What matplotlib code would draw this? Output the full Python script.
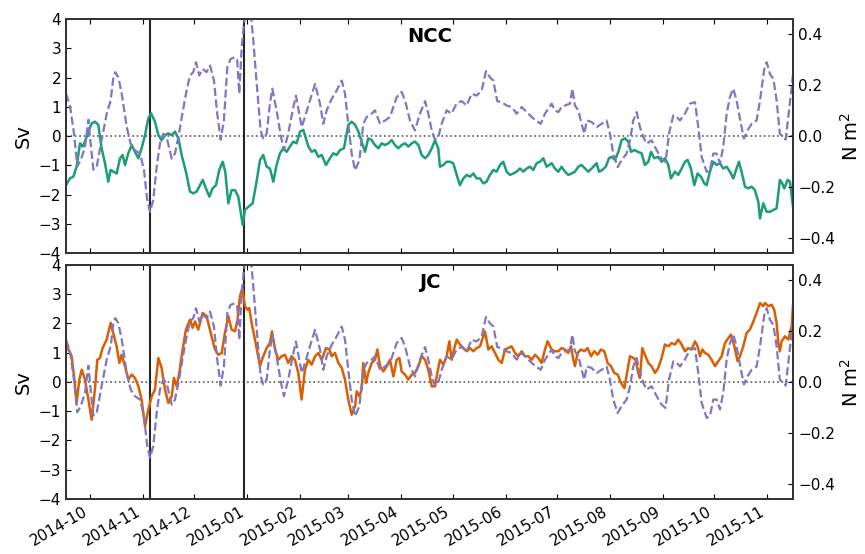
import matplotlib
matplotlib.use("Agg")
import matplotlib.pyplot as plt
import matplotlib.dates as mdates
import pandas as pd

START = pd.Timestamp("2014-09-17")
END = pd.Timestamp("2015-11-16")
events = ["2014-11-05", "2014-12-30"]

# alongshore wind stress (N m^2), days since START
wind_day = [0, 2.3, 4.7, 6.6, 8.6, 11.1, 13.1, 14.6, 16.0, 17.9, 20.8, 23.8, 26.1, 27.7, 28.8,
            30.6, 32.6, 35.5, 37.8, 40.3, 43.3, 45.6, 47.5, 49.1, 51.0, 53.0, 54.9, 56.9, 58.8,
            61.8, 63.7, 65.7, 68.2, 70.5, 72.5, 74.4, 76.0, 77.9, 79.9, 82.2, 84.2, 86.5, 88.4,
            90.4, 92.3, 94.3, 96.2, 98.8, 100.1, 101.3, 102.7, 104.0, 105.6, 107.9, 109.5, 111.8,
            113.8, 115.3, 117.3, 119.2, 120.6, 123.1, 125.5, 127.4, 129.9, 132.5, 134.4, 137.8,
            139.7, 142.6, 145.6, 148.5, 150.4, 152.4, 155.3, 158.2, 161.2, 163.1, 165.0, 167.0,
            169.0, 171.5, 173.8, 175.8, 178.7, 180.6, 183.6, 186.5, 189.4, 193.3, 196.2, 198.2,
            201.1, 204.0, 206.9, 209.9, 211.8, 213.8, 215.7, 217.6, 219.6, 222.5, 225.4, 228.4,
            231.3, 234.2, 237.1, 240.1, 243.0, 245.5, 247.8, 249.8, 252.1, 254.7, 257.6, 260.5,
            263.4, 266.4, 269.3, 272.2, 275.1, 277.5, 280.0, 281.9, 283.9, 285.8, 287.8, 289.7,
            291.7, 294.6, 296.0, 297.5, 299.5, 301.4, 303.0, 304.4, 307.3, 310.2, 313.1, 316.0,
            318.0, 319.9, 322.5, 324.8, 327.7, 329.7, 331.6, 333.6, 335.5, 337.5, 339.4, 342.3,
            345.3, 348.2, 350.5, 352.5, 355.0, 357.0, 358.9, 361.8, 364.7, 367.7, 369.6, 371.6,
            374.5, 376.4, 378.4, 380.3, 382.3, 384.2, 386.2, 388.1, 390.1, 392.0, 394.9, 396.3,
            398.4, 400.8, 403.7, 405.7, 408.2, 409.6, 411.5, 413.5, 415.4, 417.3, 419.3, 420.7,
            422.2, 424.2, 425.1]
wind = [0.166, 0.120, 0.009, -0.119, -0.095, -0.043, 0.064, -0.043, -0.132, -0.122, -0.017, 0.088,
        0.140, 0.231, 0.251, 0.231, 0.166, 0.035, -0.030, -0.056, -0.069, -0.135, -0.252, -0.298,
        -0.252, -0.122, -0.030, 0.009, -0.004, -0.089, -0.069, -0.004, 0.094, 0.179, 0.238, 0.251,
        0.290, 0.238, 0.264, 0.251, 0.277, 0.218, 0.088, -0.014, 0.061, 0.271, 0.303, 0.310, 0.297,
        0.166, 0.349, 0.440, 0.506, 0.493, 0.375, 0.179, 0.022, -0.010, 0.009, 0.127, 0.186, 0.101,
        0.003, -0.056, 0.009, 0.101, 0.159, 0.035, 0.075, 0.140, 0.205, 0.127, 0.048, 0.101, 0.146,
        0.179, 0.218, 0.166, 0.048, -0.069, -0.135, -0.095, 0.048, 0.075, 0.088, 0.101, 0.048,
        0.061, 0.075, 0.153, 0.173, 0.140, 0.061, 0.022, 0.088, 0.137, 0.088, 0.022, -0.014,
        -0.004, 0.048, 0.101, 0.088, 0.129, 0.137, 0.120, 0.166, 0.159, 0.179, 0.255, 0.231, 0.218,
        0.137, 0.133, 0.120, 0.114, 0.088, 0.114, 0.094, 0.075, 0.059, 0.048, 0.088, 0.107, 0.127,
        0.101, 0.094, 0.114, 0.120, 0.127, 0.186, 0.120, 0.101, 0.048, 0.009, 0.061, 0.055, 0.035,
        0.048, 0.061, 0.009, -0.069, -0.122, -0.095, -0.069, -0.017, 0.061, 0.094, 0.035, -0.004,
        -0.030, -0.017, -0.056, -0.089, -0.102, 0.009, 0.081, 0.075, 0.061, 0.088, 0.127, 0.133,
        0.035, -0.082, -0.141, -0.135, -0.069, -0.069, -0.108, -0.043, 0.088, 0.153, 0.186, 0.140,
        0.035, -0.010, 0.022, 0.048, 0.061, 0.140, 0.264, 0.290, 0.244, 0.225, 0.140, 0.009,
        -0.004, -0.014, 0.075, 0.192, 0.251]

# NCC transport (Sv)
ncc_day = [0, 2.3, 4.3, 6.2, 8.2, 9.7, 11.1, 13.1, 15.0, 16.9, 18.9, 20.8, 22.8, 24.7, 26.1, 27.7,
           29.6, 31.6, 33.1, 34.5, 36.4, 38.4, 40.3, 42.3, 44.2, 46.2, 48.1, 49.7, 52.0, 54.0,
           55.9, 57.9, 59.8, 61.8, 63.7, 65.7, 67.6, 70.1, 72.5, 74.4, 76.4, 78.3, 79.9, 81.8,
           83.8, 85.7, 87.7, 89.6, 91.6, 93.1, 94.9, 96.8, 98.8, 100.7, 103.3, 104.6, 106.6,
           109.1, 111.4, 113.4, 115.3, 117.3, 119.2, 121.2, 123.1, 125.1, 127.0, 129.0, 130.9,
           132.9, 134.8, 136.8, 138.7, 141.7, 143.6, 145.6, 147.5, 149.5, 152.0, 154.3, 156.3,
           158.2, 160.2, 162.5, 165.0, 167.0, 169.0, 170.9, 172.8, 174.8, 176.7, 178.7, 180.6,
           182.6, 184.5, 186.5, 188.4, 190.4, 192.3, 194.3, 196.2, 198.2, 200.1, 202.1, 204.0,
           206.0, 207.9, 209.9, 211.8, 213.8, 215.7, 217.6, 218.6, 220.6, 222.5, 224.5, 226.4,
           228.4, 230.3, 232.3, 234.2, 236.2, 238.1, 240.1, 242.0, 244.0, 245.9, 247.8, 249.8,
           251.7, 253.7, 255.6, 257.6, 259.5, 261.5, 263.4, 265.4, 267.3, 269.3, 271.2, 273.2,
           275.1, 277.1, 279.0, 281.0, 283.9, 285.8, 287.8, 289.7, 291.7, 293.6, 295.6, 297.5,
           299.5, 301.4, 303.4, 305.3, 307.3, 309.2, 310.2, 311.6, 313.5, 315.5, 317.4, 319.0,
           320.9, 322.9, 324.8, 326.8, 328.7, 330.3, 332.2, 334.2, 336.5, 338.4, 340.4, 342.0,
           343.9, 346.2, 348.2, 350.1, 352.1, 353.6, 356.0, 357.9, 359.9, 361.8, 363.4, 365.3,
           367.3, 369.2, 371.2, 373.1, 374.5, 376.4, 378.4, 380.3, 382.3, 384.2, 386.2, 388.1,
           390.1, 392.0, 393.4, 394.9, 396.9, 398.8, 400.8, 402.7, 404.7, 405.7, 407.6, 409.6,
           411.5, 413.5, 415.4, 417.3, 418.7, 419.9, 421.8, 423.2, 425.0]
ncc = [-1.68, -1.45, -1.39, -1.05, -0.25, -0.36, -0.19, 0.15, 0.43, 0.49, 0.38, -0.42, -0.93, -1.56,
       -1.16, -1.22, -1.28, -0.76, -0.65, -0.99, -0.59, -0.31, -0.54, -0.76, -0.42, 0.03, 0.60, 0.78,
       0.49, 0.03, -0.14, 0.03, 0.09, 0.03, 0.15, -0.08, -0.65, -1.22, -1.90, -1.96, -1.90, -1.68,
       -1.50, -1.79, -2.07, -1.79, -1.68, -1.16, -0.88, -1.22, -2.30, -1.85, -1.85, -2.07, -3.04,
       -2.53, -2.42, -2.30, -1.56, -0.82, -0.65, -1.05, -1.11, -1.56, -0.99, -0.59, -0.42, -0.54,
       -0.36, -0.19, -0.25, 0.15, 0.21, -0.36, -0.54, -0.48, -0.71, -0.65, -0.99, -0.76, -0.59,
       -0.65, -0.48, -0.42, 0.38, 0.49, 0.38, 0.15, -0.19, -0.54, -0.08, -0.14, -0.31, -0.42, -0.25,
       -0.31, -0.25, -0.14, -0.31, -0.42, -0.31, -0.25, -0.36, -0.25, -0.19, -0.31, -0.65, -0.76,
       -0.65, -0.42, -0.14, -0.42, -1.05, -0.99, -0.88, -0.88, -0.93, -1.33, -1.68, -1.45, -1.33,
       -1.39, -1.28, -1.45, -1.45, -1.62, -1.56, -1.33, -1.16, -1.22, -0.99, -0.88, -1.22, -1.33,
       -1.28, -1.22, -1.11, -1.22, -1.11, -1.05, -1.16, -0.93, -0.88, -0.76, -1.05, -0.93, -1.11,
       -1.22, -1.05, -1.22, -1.33, -1.28, -1.22, -1.05, -0.99, -1.11, -1.22, -1.11, -0.99, -0.93,
       -1.22, -1.16, -1.05, -0.76, -0.71, -0.82, -0.54, -0.14, -0.08, -0.19, -0.54, -0.48, -0.54,
       -0.59, -0.99, -0.88, -0.54, -0.76, -0.71, -0.88, -0.76, -0.99, -1.45, -1.22, -1.33, -1.11,
       -0.88, -0.82, -1.11, -1.68, -1.28, -1.39, -1.62, -1.68, -1.22, -0.88, -0.99, -0.93, -1.11,
       -1.05, -1.22, -1.45, -1.11, -0.88, -1.22, -1.73, -1.79, -1.73, -1.85, -2.25, -2.82, -2.30,
       -2.59, -2.59, -2.53, -2.47, -1.50, -1.62, -1.79, -1.50, -1.56, -2.42]

# JC transport (Sv)
jc_day = [0, 1.4, 3.3, 4.7, 6.2, 7.8, 9.2, 11.1, 13.1, 15.0, 16.9, 18.3, 19.9, 21.4, 23.8, 26.1,
          28.1, 29.6, 31.2, 32.5, 34.5, 36.4, 38.4, 40.3, 42.3, 44.2, 46.2, 48.1, 50.1, 52.0,
          54.0, 55.9, 57.9, 59.8, 61.8, 63.1, 64.7, 66.2, 68.2, 70.1, 72.5, 74.0, 75.4, 77.3,
          79.9, 82.2, 85.1, 87.1, 89.0, 91.0, 92.9, 94.9, 96.8, 98.8, 100.3, 101.7, 103.1, 104.6,
          106.0, 107.1, 108.5, 110.5, 113.4, 114.9, 117.3, 119.2, 120.4, 122.2, 124.1, 126.0,
          128.0, 129.9, 131.9, 133.8, 135.8, 137.7, 139.7, 141.7, 143.6, 145.6, 147.5, 149.5,
          152.0, 154.0, 155.3, 157.3, 159.2, 161.2, 163.1, 165.0, 167.0, 169.0, 169.9, 171.5,
          172.8, 173.8, 175.4, 176.7, 178.7, 180.6, 182.0, 183.6, 185.5, 187.5, 189.4, 191.4,
          193.3, 194.9, 196.2, 198.2, 200.1, 202.1, 204.0, 206.0, 207.9, 209.9, 211.8, 213.8,
          215.7, 216.7, 218.6, 220.6, 222.5, 224.1, 225.4, 226.8, 228.4, 230.3, 232.3, 234.2,
          236.2, 238.1, 240.1, 242.0, 244.0, 244.9, 246.9, 248.8, 250.8, 252.7, 254.7, 256.6,
          258.6, 260.5, 262.5, 264.4, 266.4, 268.3, 270.3, 272.2, 274.2, 276.1, 278.0, 280.0,
          281.5, 283.9, 285.8, 287.8, 289.7, 291.7, 293.6, 295.2, 296.6, 297.5, 299.1, 301.0,
          303.0, 304.9, 306.9, 308.8, 310.8, 312.7, 314.7, 316.6, 318.6, 320.5, 322.5, 324.4,
          326.4, 328.3, 329.7, 331.6, 333.0, 334.5, 335.5, 336.9, 338.4, 340.4, 342.3, 344.3,
          346.2, 348.2, 350.1, 352.1, 354.0, 356.0, 357.9, 359.9, 361.8, 363.8, 365.7, 367.7,
          369.2, 370.6, 372.0, 373.5, 375.5, 377.4, 379.4, 381.3, 383.3, 385.2, 387.2, 388.7,
          390.7, 392.6, 394.0, 395.9, 397.9, 399.8, 401.8, 403.7, 405.7, 407.6, 408.6, 410.5,
          412.5, 414.0, 415.4, 416.4, 417.3, 418.3, 420.3, 422.2, 424.2, 425.0]
jc = [1.39, 1.11, 0.88, 0.19, -0.72, 0.08, 0.42, 0.08, -0.60, -1.29, -0.26, 0.76, 0.82, 1.16, 1.45,
      2.02, 1.56, 1.22, 0.65, 0.93, 0.54, 0.08, 0.25, 0.14, -0.15, -0.60, -1.52, -0.95, -0.49,
      -0.26, 0.82, 0.48, -0.26, -0.72, -0.49, 0.14, -0.15, 0.31, 1.11, 1.79, 2.13, 1.85, 2.07, 1.79,
      2.36, 2.25, 1.56, 1.11, 0.93, 0.99, 1.68, 2.25, 1.79, 1.73, 2.13, 2.93, 3.21, 2.59, 2.47, 2.53,
      2.02, 1.45, 0.54, 0.82, 1.16, 1.33, 1.73, 1.11, 0.76, 0.88, 0.93, 0.65, 0.88, 0.76, 0.31,
      -0.60, 0.42, 0.76, 0.59, 0.88, 0.99, 0.76, 1.16, 1.11, 0.88, 0.99, 0.65, 0.48, 0.08, -0.60,
      -1.12, -0.83, -0.32, -0.49, -0.26, 0.65, -0.03, 0.31, 0.65, 0.76, 1.11, 0.54, 0.36, 0.54,
      0.76, 0.19, 0.76, 0.82, 0.36, 0.25, 0.08, 0.25, 0.31, 0.54, 0.88, 0.76, 0.42, -0.15, -0.15,
      0.19, 0.76, 0.59, 0.88, 1.39, 0.76, 1.11, 1.45, 1.28, 1.16, 1.05, 1.16, 1.05, 1.16, 1.22,
      1.56, 1.73, 1.11, 1.22, 0.99, 0.76, 0.65, 1.11, 1.16, 1.22, 0.99, 0.88, 1.05, 0.88, 0.88,
      0.76, 0.93, 0.82, 0.65, 1.11, 1.39, 1.11, 1.05, 1.05, 1.16, 1.11, 0.99, 1.22, 0.76, 0.54,
      0.99, 1.11, 1.05, 1.16, 0.88, 1.05, 0.93, 1.11, 1.05, 0.65, 0.54, 0.31, 0.25, -0.03, -0.21,
      0.42, 0.88, 0.82, 0.76, 0.31, 0.14, 1.16, 0.93, 0.65, 0.54, 0.31, 0.48, 0.82, 1.28, 1.22,
      1.33, 1.28, 1.45, 1.28, 1.05, 1.16, 1.11, 1.39, 1.22, 0.88, 1.11, 0.99, 0.93, 0.76, 0.54,
      0.71, 0.88, 1.33, 1.50, 1.62, 1.22, 0.71, 0.88, 1.22, 1.68, 1.79, 2.07, 2.36, 2.70, 2.59,
      2.70, 2.59, 2.64, 2.47, 2.02, 1.33, 1.05, 1.39, 1.56, 1.45, 1.90, 2.64]


def to_dates(days):
    return START + pd.to_timedelta(days, unit="D")


fig = plt.figure(figsize=(8.65, 5.54), dpi=100)
axes = fig.subplots(2, 1, sharex=True)
fig.subplots_adjust(left=0.0763, right=0.9168, top=0.9657, bottom=0.0993, hspace=0.051)

panels = [("NCC", ncc_day, ncc, "#1b9e77"), ("JC", jc_day, jc, "#d95f02")]
for ax, (name, days, vals, color) in zip(axes, panels):
    ax.plot(to_dates(days), vals, color=color, lw=1.8, zorder=3)
    ax.axhline(0, color="0.35", ls=":", lw=1.2)
    for e in events:
        ax.axvline(pd.Timestamp(e), color="0.15", lw=1.5)
    ax.set_ylim(-4, 4)
    ax.set_yticks(range(-4, 5))
    ax.set_ylabel("Sv", fontsize=14)
    ax.text(0.5, 0.925, name, transform=ax.transAxes, ha="center", va="center",
            fontsize=14, fontweight="bold")
    ax.tick_params(direction="in", labelsize=11, top=True)

    # wind stress on its own scale
    ax2 = ax.twinx()
    ax2.plot(to_dates(wind_day), wind, ls="--", color="#7d77c6", lw=1.6)
    ax2.set_ylim(-0.46, 0.46)
    ax2.set_yticks([-0.4, -0.2, 0.0, 0.2, 0.4])
    ax2.set_ylabel("N m$^2$", fontsize=14)
    ax2.tick_params(direction="in", labelsize=11)
    for a in (ax, ax2):
        for s in a.spines.values():
            s.set_color("0.2")
            s.set_linewidth(1.3)

axes[1].set_xlim(START, END)
axes[1].xaxis.set_major_locator(mdates.MonthLocator())
axes[1].xaxis.set_major_formatter(mdates.DateFormatter("%Y-%m"))
plt.setp(axes[1].get_xticklabels(), rotation=30, ha="right")

fig.savefig("out.png", dpi=100)
